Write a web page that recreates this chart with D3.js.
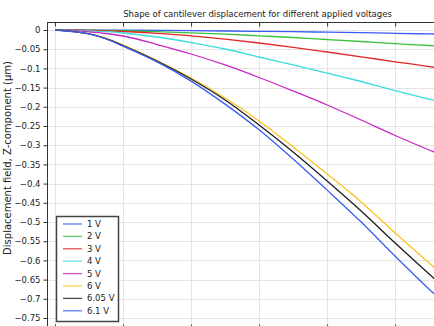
<!DOCTYPE html>
<html><head><meta charset="utf-8">
<script src="https://cdn.jsdelivr.net/npm/d3@7"></script>
<style>body{margin:0;background:#fff}svg{display:block}text{font-family:"DejaVu Sans",sans-serif;fill:#222}</style>
</head><body>
<script>
const xs = [0,5,10,15,20,30,40,50,60,70,80,90,100,110,115];
const v1   = [0,0,-0.0001,-0.0003,-0.0005,-0.001,-0.0018,-0.0026,-0.0034,-0.0044,-0.0057,-0.007,-0.0086,-0.0102,-0.0109];
const v2   = [0,-0.0001,-0.0005,-0.0012,-0.0021,-0.0042,-0.0073,-0.0109,-0.0151,-0.0195,-0.0247,-0.0299,-0.0354,-0.0404,-0.043];
const v3   = [0,-0.0003,-0.001,-0.0023,-0.0039,-0.0086,-0.0151,-0.024,-0.0339,-0.0451,-0.0573,-0.0698,-0.0828,-0.0951,-0.1016];
const v4   = [0,-0.0008,-0.0021,-0.0044,-0.0078,-0.0182,-0.0326,-0.0495,-0.0703,-0.0911,-0.112,-0.1341,-0.1576,-0.1797,-0.1901];
const v5   = [0,-0.0016,-0.0047,-0.0091,-0.0156,-0.0378,-0.0625,-0.0911,-0.1237,-0.1589,-0.1953,-0.2344,-0.2747,-0.3125,-0.3307];
const v6   = [0,-0.0034,-0.0096,-0.0219,-0.0391,-0.0794,-0.125,-0.1771,-0.237,-0.3047,-0.375,-0.4479,-0.5286,-0.6068,-0.6458];
const v605 = [0,-0.0036,-0.0099,-0.0224,-0.0404,-0.0807,-0.1276,-0.1823,-0.2474,-0.3177,-0.3932,-0.4714,-0.5547,-0.6354,-0.6745];
const v61  = [0,-0.004,-0.010,-0.023,-0.042,-0.083,-0.133,-0.193,-0.260,-0.336,-0.417,-0.500,-0.589,-0.675,-0.716];
const labels = ["1 V","2 V","3 V","4 V","5 V","6 V","6.05 V","6.1 V"];
const colors = ["#3a5cf0","#3cc03c","#e02828","#3cdcdc","#c828c8","#ffc020","#1e1e1e","#3a5cf0"];
const yTicks = d3.range(0,16).map(i=>-i*0.05);
const xTicks = [0,20,40,60,80,100,120];
const series = [v1,v2,v3,v4,v5,v6,v605,v61];

const W=434,H=326;
const L=47,T=22,R=470,B=328;
const svg=d3.select("body").append("svg").attr("width",W).attr("height",H);
const x=d3.scaleLinear().domain([-2.353,122]).range([L,R]);
const y=d3.scaleLinear().domain([-0.776,0.02083]).range([B,T]);

svg.append("defs").append("clipPath").attr("id","c").append("rect").attr("x",L).attr("y",T).attr("width",R-L).attr("height",B-T);

// grid
const g=svg.append("g").attr("clip-path","url(#c)");
g.selectAll(".gy").data(yTicks).enter().append("line").attr("x1",L).attr("x2",R)
 .attr("y1",d=>Math.round(y(d))+0.5).attr("y2",d=>Math.round(y(d))+0.5).attr("stroke","#e4e4e4").attr("stroke-width",1);
g.selectAll(".gx").data(xTicks).enter().append("line").attr("y1",T).attr("y2",B)
 .attr("x1",d=>Math.round(x(d))+0.5).attr("x2",d=>Math.round(x(d))+0.5).attr("stroke","#e4e4e4").attr("stroke-width",1);

// lines
const line=d3.line().x((d,i)=>x(xs[i])).y(d=>y(d)).curve(d3.curveMonotoneX);
series.forEach((s,i)=>{
  g.append("path").datum(s).attr("d",line).attr("fill","none").attr("stroke",colors[i]).attr("stroke-width",1.3);
});

// frame
svg.append("rect").attr("x",L+0.5).attr("y",T+0.5).attr("width",R-L).attr("height",B-T).attr("fill","none").attr("stroke","#333").attr("stroke-width",1);

// axes
const ya=d3.axisLeft(y).tickValues(yTicks).tickSize(4).tickPadding(3).tickFormat(d=>d===0?"0":d3.format("")(+d.toFixed(2)));
const yg=svg.append("g").attr("transform",`translate(${L+0.5},0)`).call(ya);
yg.select(".domain").remove();
yg.selectAll("text").style("font-size","8.5px");
yg.selectAll("line").attr("stroke","#333");
const xt=d3.axisBottom(x).tickValues(xTicks).tickSize(4).tickFormat("");
const xtg=svg.append("g").attr("transform",`translate(0,${T+0.5})`).call(xt);
xtg.select(".domain").remove(); xtg.selectAll("line").attr("stroke","#333");
const xb=d3.axisTop(x).tickValues(xTicks).tickSize(4).tickFormat("");
const xbg=svg.append("g").attr("transform",`translate(0,${B+0.5})`).call(xb);
xbg.select(".domain").remove(); xbg.selectAll("line").attr("stroke","#333");

// title
svg.append("text").attr("x",257.5).attr("y",17).attr("text-anchor","middle").style("font-size","8.5px").text("Shape of cantilever displacement for different applied voltages");
// y label
const yl=svg.append("text").attr("transform","translate(11,158) rotate(-90)").attr("text-anchor","middle").style("font-size","10px").text("Displacement field, Z-component (µm)");
const len=yl.node().getComputedTextLength();
yl.style("font-size",(10*194/len).toFixed(2)+"px");

// legend
const lg=svg.append("g");
lg.append("rect").attr("x",56.5).attr("y",216.5).attr("width",62).attr("height",105).attr("fill","#fff").attr("stroke","#444").attr("stroke-width",1.5);
labels.forEach((t,i)=>{
  const yy=224+i*12.4;
  lg.append("line").attr("x1",63).attr("x2",82).attr("y1",yy).attr("y2",yy).attr("stroke",colors[i]).attr("stroke-width",1.3).attr("opacity",0.8);
  lg.append("text").attr("x",87).attr("y",yy+3).style("font-size","8.5px").text(t);
});
</script>
</body></html>
